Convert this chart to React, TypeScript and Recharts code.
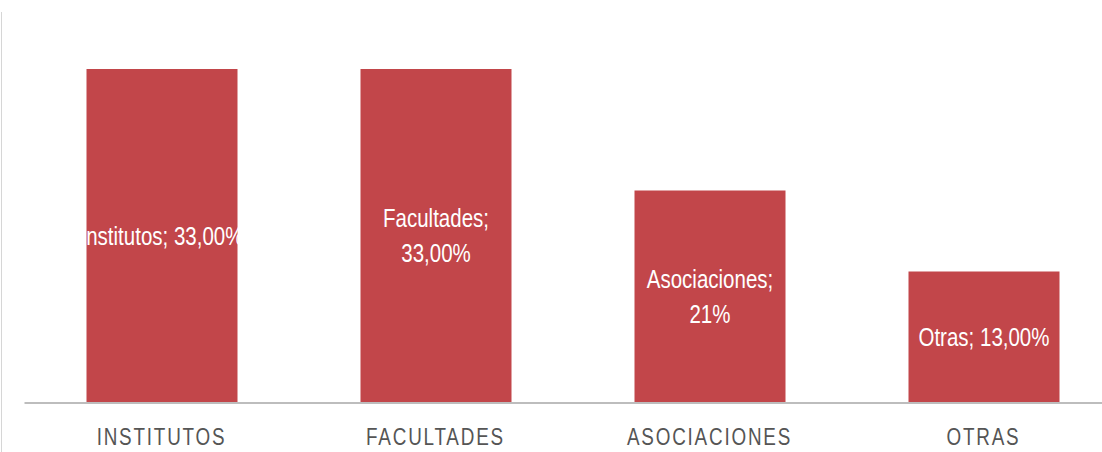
import { BarChart, Bar, XAxis, YAxis, LabelList } from "recharts";

const categories = ["INSTITUTOS", "FACULTADES", "ASOCIACIONES", "OTRAS"];
const shares = [33, 33, 21, 13];
const barLabels = [
  ["Institutos; 33,00%"],
  ["Facultades;", "33,00%"],
  ["Asociaciones;", "21%"],
  ["Otras; 13,00%"],
];

const data = categories.map((c, i) => ({ name: c, value: shares[i], label: barLabels[i] }));

const BAR_RED = "#c2464a";
const FONT = '"Liberation Sans", Arial, sans-serif';
// Liberation Sans squeezed horizontally to look like Arial Narrow
const NARROW_X = 0.82;
const squeeze = (cx: number) => `translate(${cx},0) scale(${NARROW_X},1) translate(${-cx},0)`;

const InsideLabel = (props: any) => {
  const { x, y, width, height, index } = props;
  const lines: string[] = barLabels[index] || [];
  const cx = x + width / 2;
  const cy = y + height / 2;
  const lh = 35;
  const start = cy - ((lines.length - 1) * lh) / 2;
  return (
    <text textAnchor="middle" fill="#ffffff" fontFamily={FONT} fontSize={25} transform={squeeze(cx)}>
      {lines.map((t, i) => (
        <tspan key={i} x={cx} y={start + i * lh} dy="0.35em">
          {t}
        </tspan>
      ))}
    </text>
  );
};

const CategoryTick = ({ x, y, payload }: any) => (
  <text
    x={x}
    y={y + 26}
    textAnchor="middle"
    fill="#555555"
    fontFamily={FONT}
    fontSize={23}
    letterSpacing={2.2}
    dy="0.35em"
    transform={squeeze(x)}
  >
    {payload.value}
  </text>
);

export default function App() {
  return (
    <div style={{ position: "absolute", left: 0, top: 0, width: 1102, height: 452, overflow: "hidden", background: "#fff" }}>
      <div style={{ position: "absolute", left: 1, top: 12, width: 1, height: 440, background: "#d6d6d6" }} />
      <BarChart
        width={1130}
        height={452}
        data={data}
        margin={{ top: 69, right: 9.5, left: 24.5, bottom: 0 }}
      >
        <YAxis hide domain={[0, 33]} />
        <XAxis
          dataKey="name"
          height={49}
          axisLine={{ stroke: "#bdbdbd", strokeWidth: 2 }}
          tickLine={false}
          tick={<CategoryTick />}
          interval={0}
        />
        <Bar dataKey="value" fill={BAR_RED} barSize={151} isAnimationActive={false}>
          <LabelList dataKey="value" content={<InsideLabel />} />
        </Bar>
      </BarChart>
    </div>
  );
}
